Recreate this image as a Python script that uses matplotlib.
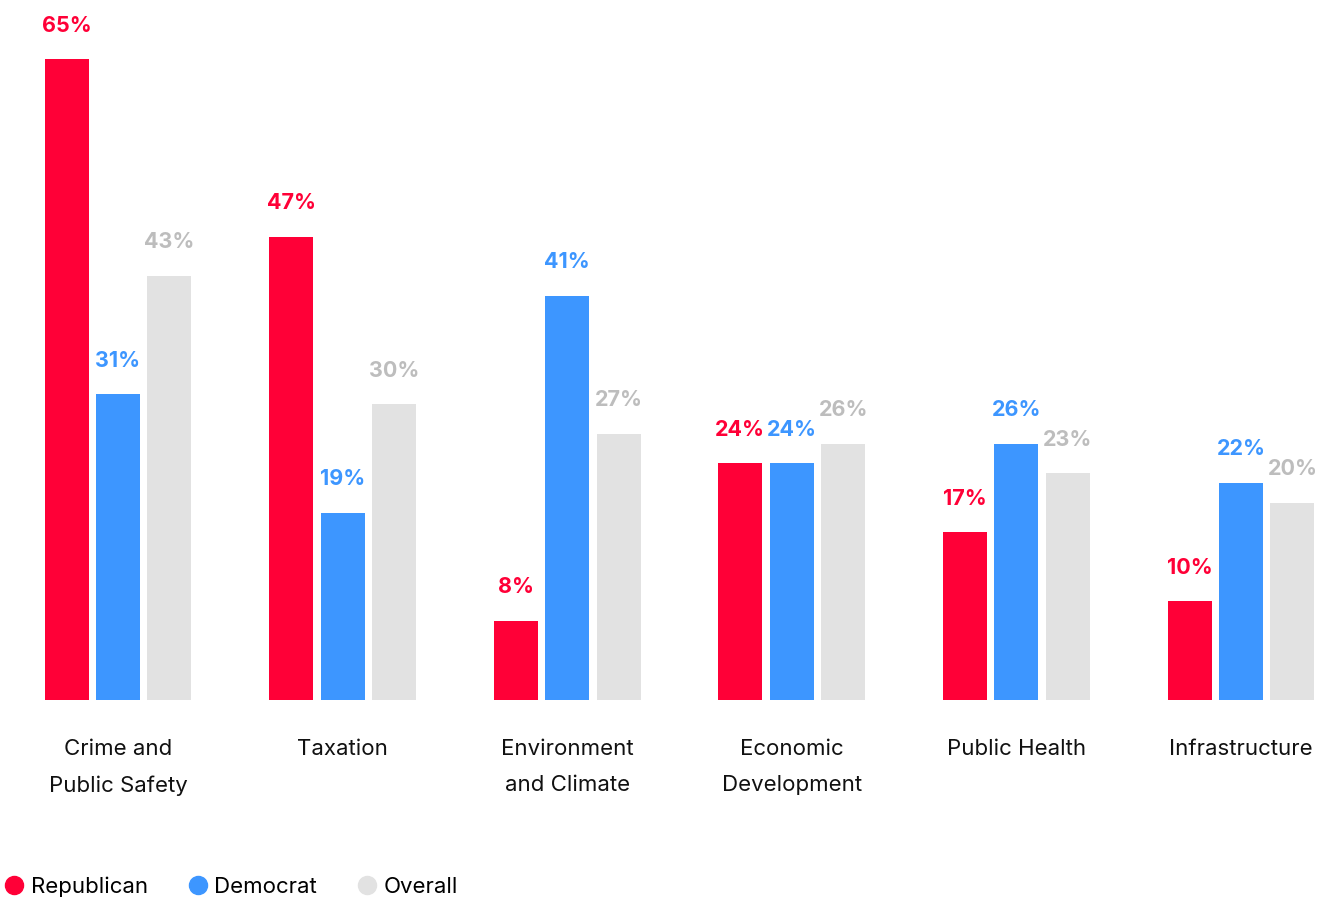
import matplotlib
matplotlib.use('Agg')
import matplotlib.pyplot as plt
from matplotlib.lines import Line2D
import numpy as np

# Data (percent)
categories = ['Crime and\nPublic Safety', 'Taxation', 'Environment\nand Climate',
              'Economic\nDevelopment', 'Public Health', 'Infrastructure']
republican = [65, 47, 8, 24, 17, 10]
democrat = [31, 19, 41, 24, 26, 22]
overall = [43, 30, 27, 26, 23, 20]

series = ['Republican', 'Democrat', 'Overall']
bar_colors = ['#FF0037', '#3D96FF', '#E2E2E2']
text_colors = ['#FF0037', '#3D96FF', '#BDBDBD']

plt.rcParams['font.family'] = ['Inter', 'DejaVu Sans']

fig = plt.figure(figsize=(13.3, 8.97), dpi=100)
ax = fig.add_axes([0, 1 - 700 / 897, 1, 690 / 897])

x = np.arange(len(categories))
bar_width = 0.196
offset = 0.229

for i, vals in enumerate([republican, democrat, overall]):
    pos = x + (i - 1) * offset
    ax.bar(pos, vals, width=bar_width, color=bar_colors[i], label=series[i])
    for p, v in zip(pos, vals):
        ax.text(p, v + 2.4, f'{v}%', ha='center', va='bottom', fontsize=15.5,
                fontweight='bold', color=text_colors[i])

ax.set_xlim(-118 / 224.6, (1330 - 118) / 224.6)
ax.set_ylim(0, 70)
ax.axis('off')

for xi, cat in zip(x, categories):
    ax.text(xi, -4.0, cat, ha='center', va='top', fontsize=16, color='#111111',
            linespacing=1.95)

# Legend along the bottom edge
handles = [Line2D([], [], marker='o', linestyle='', markersize=13,
                  markerfacecolor=c, markeredgecolor=c) for c in bar_colors]
fig.legend(handles, series, loc='lower left', bbox_to_anchor=(0.004, 0.0),
           ncol=3, frameon=False, fontsize=16, handlelength=0.8,
           handletextpad=0.35, columnspacing=1.83, borderpad=0, borderaxespad=0)

fig.savefig('out.png', dpi=100)
